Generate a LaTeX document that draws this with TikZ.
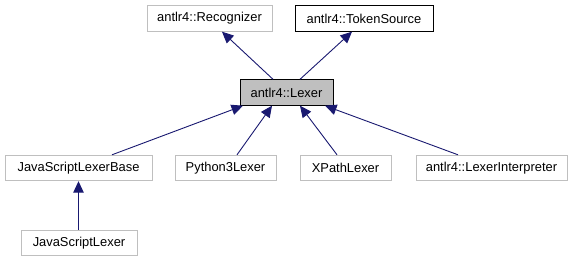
\documentclass[tikz,border=0pt]{standalone}
\usepackage{fontspec}
\setmainfont{Liberation Sans}
\usetikzlibrary{arrows.meta}
\definecolor{edgeblue}{HTML}{191970}
\definecolor{boxgray}{HTML}{BFBFBF}
\tikzset{
  cls/.style={draw=boxgray, line width=0.9pt, fill=white, inner sep=0pt,
    minimum height=25.5pt, font=\fontsize{12.9}{14}\selectfont},
  blackcls/.style={cls, draw=black},
  current/.style={cls, draw=black, fill=boxgray},
  inherit/.style={draw=edgeblue, line width=0.9pt,
    -{Triangle[length=11.5pt,width=10.5pt]}},
}
\begin{document}
\begin{tikzpicture}[x=1pt,y=-1pt]
\useasboundingbox (0,0) rectangle (573,261);
% top row: base classes
\node[cls, minimum width=125pt] (recog) at (209.5,18.5) {antlr4::Recognizer};
\node[blackcls, minimum width=138pt] (tsrc) at (364,18.5) {antlr4::TokenSource};
% the lexer itself
\node[current, minimum width=93pt] (lexer) at (286.5,92.5) {antlr4::Lexer};
% derived lexers
\node[cls, minimum width=147pt] (jslb) at (78.5,168) {JavaScriptLexerBase};
\node[cls, minimum width=101pt] (py3) at (225.5,168) {Python3Lexer};
\node[cls, minimum width=91pt] (xpath) at (345.5,168) {XPathLexer};
\node[cls, minimum width=151pt] (interp) at (491.5,168) {antlr4::LexerInterpreter};
\node[cls, minimum width=116pt] (jsl) at (79,243) {JavaScriptLexer};
% inheritance edges
\draw[inherit] ([xshift=-13.5pt]lexer.north) -- ([xshift=12.5pt]recog.south);
\draw[inherit] ([xshift=13.5pt]lexer.north) -- ([xshift=-12pt]tsrc.south);
\draw[inherit] ([xshift=33.5pt]jslb.north) -- ([xshift=-43.5pt]lexer.south);
\draw[inherit] ([xshift=11.5pt]py3.north) -- ([xshift=-14.5pt]lexer.south);
\draw[inherit] ([xshift=-8.5pt]xpath.north) -- ([xshift=13.5pt]lexer.south);
\draw[inherit] ([xshift=-33.5pt]interp.north) -- ([xshift=38.5pt]lexer.south);
\draw[inherit] (jsl.north -| jslb.south) -- (jslb.south);
\end{tikzpicture}
\end{document}
